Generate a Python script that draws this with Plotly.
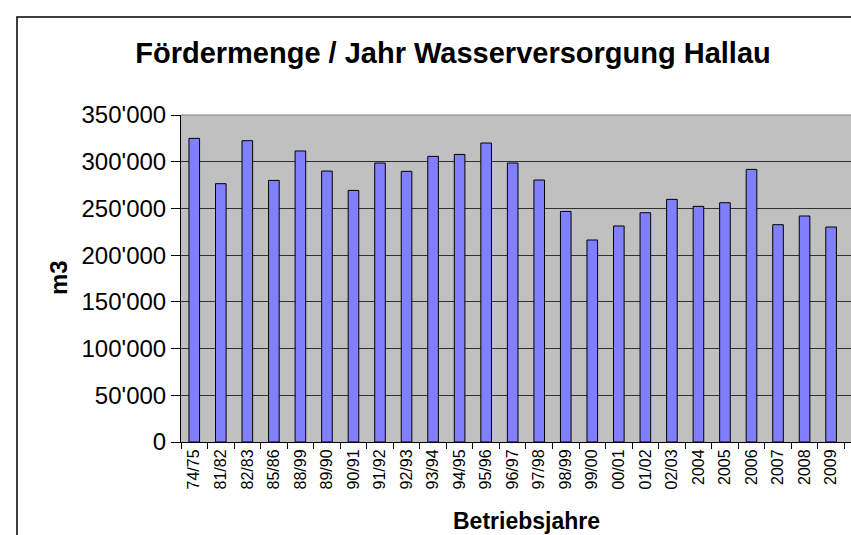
import plotly.graph_objects as go

categories = ["74/75", "81/82", "82/83", "85/86", "88/99", "89/90", "90/91", "91/92",
              "92/93", "93/94", "94/95", "95/96", "96/97", "97/98", "98/99", "99/00",
              "00/01", "01/02", "02/03", "2004", "2005", "2006", "2007", "2008", "2009"]
values = [325000, 276500, 322500, 280000, 311500, 290000, 269300, 298600,
          289700, 305700, 307800, 320000, 298600, 280400, 246800, 216200,
          231200, 245400, 259700, 252200, 256100, 291800, 232600, 241900, 230100]

title_text = "Fördermenge / Jahr Wasserversorgung Hallau"
x_title = "Betriebsjahre"
y_title = "m3"

W, H = 851, 535
L, R, T, B = 181, 0, 115, 93
pw = W - L - R
ph = H - T - B

def px_x(p):
    return (p - L) / pw

def px_y(p):
    return (H - B - p) / ph

FONT = "Liberation Sans, Arial, Helvetica, sans-serif"

fig = go.Figure()
fig.add_trace(go.Bar(
    x=categories, y=values, width=0.4,
    marker=dict(color="#8080ff", line=dict(color="#000000", width=1)),
))

fig.update_layout(
    width=W, height=H,
    margin=dict(l=L, r=R, t=T, b=B, pad=0),
    paper_bgcolor="white",
    plot_bgcolor="#c0c0c0",
    separators=".'",
    showlegend=False,
    font=dict(family=FONT, color="black"),
    title=dict(text="<b>" + title_text + "</b>", x=453 / W, xref="container", xanchor="center",
               y=1 - 53 / H, yref="container", yanchor="middle",
               font=dict(size=29, family=FONT, color="black")),
    bargap=0.6,
)

fig.update_xaxes(
    type="category", range=[-0.5, 24.75],
    showline=True, linecolor="black", linewidth=1,
    ticks="outside", ticklen=6, tickcolor="black", tickson="boundaries",
    tickangle=-90, tickfont=dict(size=16, family=FONT, color="black"),
    showgrid=False, zeroline=False,
)
fig.update_yaxes(
    range=[0, 350000], dtick=50000, tickformat=",",
    showline=True, linecolor="black", linewidth=1,
    ticks="outside", ticklen=9, tickcolor="black",
    tickfont=dict(size=24, family=FONT, color="black"),
    showgrid=True, gridcolor="#303030", gridwidth=1, zeroline=False,
)

shapes = [
    # outer chart frame
    dict(type="rect", xref="paper", yref="paper",
         x0=px_x(17), x1=px_x(900), y0=px_y(600), y1=px_y(17),
         line=dict(color="black", width=1.5), fillcolor="rgba(0,0,0,0)", layer="above"),
    # plot area top border
    dict(type="line", xref="paper", yref="paper", x0=0, x1=1, y0=1, y1=1,
         line=dict(color="#808080", width=1)),
]
fig.update_layout(shapes=shapes)

fig.add_annotation(text="<b>" + x_title + "</b>", xref="paper", yref="paper",
                   x=px_x(526), y=px_y(521), xanchor="center", yanchor="middle",
                   showarrow=False, font=dict(size=23, family=FONT, color="black"))
fig.add_annotation(text="<b>" + y_title + "</b>", xref="paper", yref="paper",
                   x=px_x(58), y=px_y(278), xanchor="center", yanchor="middle",
                   textangle=-90, showarrow=False, font=dict(size=24, family=FONT, color="black"))

fig.write_html("out.html",
               config={"displayModeBar": False},
               post_script="document.body.style.margin='0';document.body.style.overflow='hidden';")
